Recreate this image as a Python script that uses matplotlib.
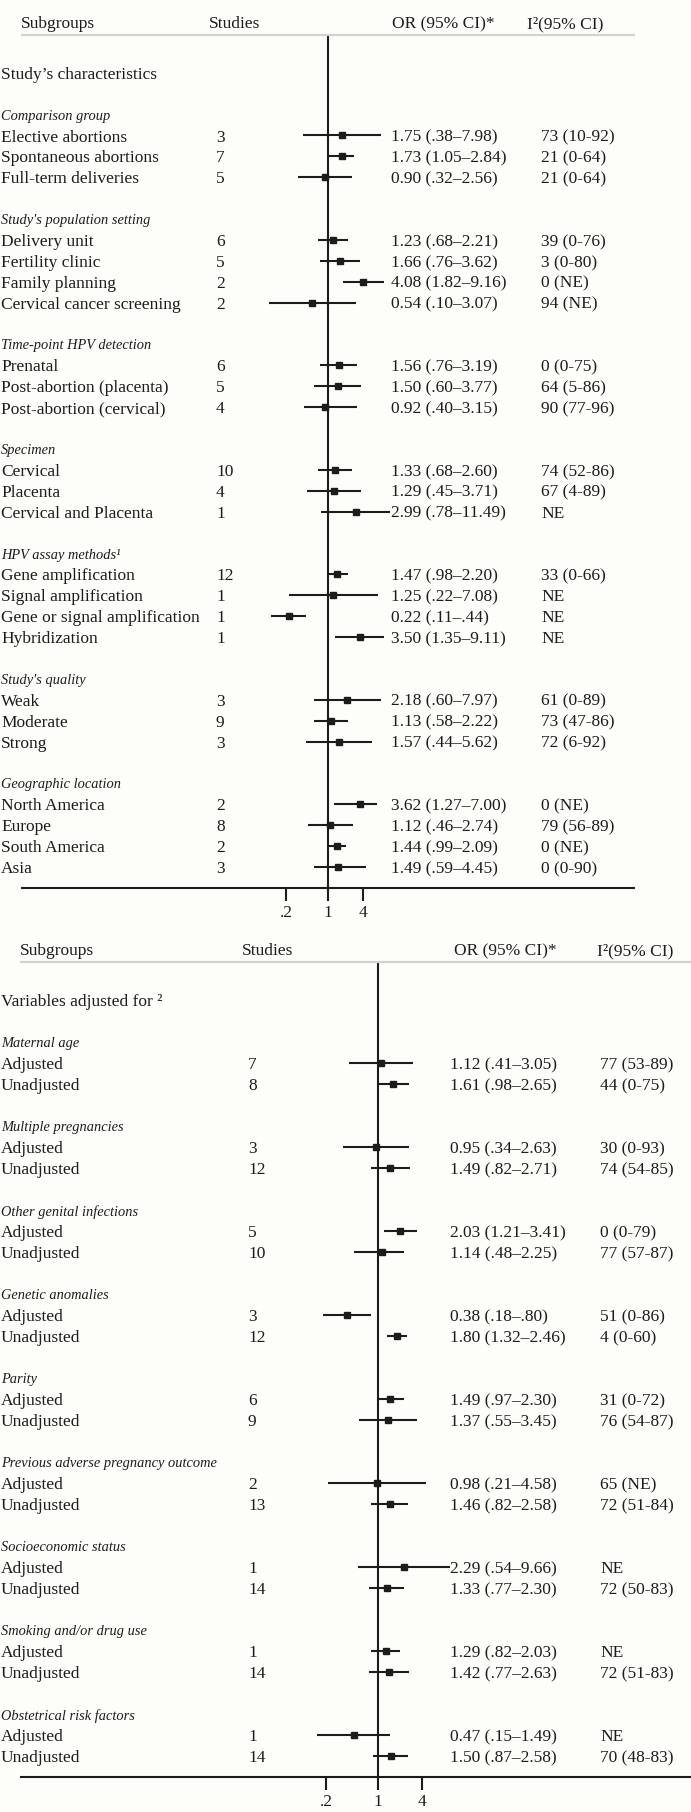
import numpy as np
import matplotlib
matplotlib.use("Agg")
import matplotlib.pyplot as plt
from matplotlib import transforms
from matplotlib.ticker import NullLocator

# ---- top panel: study characteristics ----
top_groups = ["Comparison group", "Study's population setting", "Time-point HPV detection",
              "Specimen", "HPV assay methods\u00b9", "Study's quality", "Geographic location"]
top_sizes = [3, 4, 3, 3, 4, 3, 4]
top_labels = ["Elective abortions", "Spontaneous abortions", "Full-term deliveries",
              "Delivery unit", "Fertility clinic", "Family planning", "Cervical cancer screening",
              "Prenatal", "Post-abortion (placenta)", "Post-abortion (cervical)",
              "Cervical", "Placenta", "Cervical and Placenta",
              "Gene amplification", "Signal amplification", "Gene or signal amplification", "Hybridization",
              "Weak", "Moderate", "Strong",
              "North America", "Europe", "South America", "Asia"]
top_studies = [3, 7, 5, 6, 5, 2, 2, 6, 5, 4, 10, 4, 1, 12, 1, 1, 1, 3, 9, 3, 2, 8, 2, 3]
top_or = [1.75, 1.73, 0.90, 1.23, 1.66, 4.08, 0.54, 1.56, 1.50, 0.92, 1.33, 1.29, 2.99,
          1.47, 1.25, 0.22, 3.50, 2.18, 1.13, 1.57, 3.62, 1.12, 1.44, 1.49]
top_lo = [0.38, 1.05, 0.32, 0.68, 0.76, 1.82, 0.10, 0.76, 0.60, 0.40, 0.68, 0.45, 0.78,
          0.98, 0.22, 0.11, 1.35, 0.60, 0.58, 0.44, 1.27, 0.46, 0.99, 0.59]
top_hi = [7.98, 2.84, 2.56, 2.21, 3.62, 9.16, 3.07, 3.19, 3.77, 3.15, 2.60, 3.71, 11.49,
          2.20, 7.08, 0.44, 9.11, 7.97, 2.22, 5.62, 7.00, 2.74, 2.09, 4.45]
top_i2 = ["73 (10-92)", "21 (0-64)", "21 (0-64)", "39 (0-76)", "3 (0-80)", "0 (NE)", "94 (NE)",
          "0 (0-75)", "64 (5-86)", "90 (77-96)", "74 (52-86)", "67 (4-89)", "NE",
          "33 (0-66)", "NE", "NE", "NE", "61 (0-89)", "73 (47-86)", "72 (6-92)",
          "0 (NE)", "79 (56-89)", "0 (NE)", "0 (0-90)"]

# ---- bottom panel: adjustment variables ----
bot_groups = ["Maternal age", "Multiple pregnancies", "Other genital infections", "Genetic anomalies",
              "Parity", "Previous adverse pregnancy outcome", "Socioeconomic status",
              "Smoking and/or drug use", "Obstetrical risk factors"]
bot_sizes = [2] * 9
bot_labels = ["Adjusted", "Unadjusted"] * 9
bot_studies = [7, 8, 3, 12, 5, 10, 3, 12, 6, 9, 2, 13, 1, 14, 1, 14, 1, 14]
bot_or = [1.12, 1.61, 0.95, 1.49, 2.03, 1.14, 0.38, 1.80, 1.49, 1.37, 0.98, 1.46,
          2.29, 1.33, 1.29, 1.42, 0.47, 1.50]
bot_lo = [0.41, 0.98, 0.34, 0.82, 1.21, 0.48, 0.18, 1.32, 0.97, 0.55, 0.21, 0.82,
          0.54, 0.77, 0.82, 0.77, 0.15, 0.87]
bot_hi = [3.05, 2.65, 2.63, 2.71, 3.41, 2.25, 0.80, 2.46, 2.30, 3.45, 4.58, 2.58,
          9.66, 2.30, 2.03, 2.63, 1.49, 2.58]
bot_i2 = ["77 (53-89)", "44 (0-75)", "30 (0-93)", "74 (54-85)", "0 (0-79)", "77 (57-87)",
          "51 (0-86)", "4 (0-60)", "31 (0-72)", "76 (54-87)", "65 (NE)", "72 (51-84)",
          "NE", "72 (50-83)", "NE", "72 (51-83)", "NE", "70 (48-83)"]

tick_vals = [0.2, 1, 4]
tick_labels = [".2", "1", "4"]

W, H = 691, 1812
FONT = "Liberation Serif"
INK = "#1c1c1c"
plt.rcParams["font.family"] = FONT

fig = plt.figure(figsize=(W / 100, H / 100), dpi=100)
fig.patch.set_facecolor("#fdfdf9")


def ci_text(v):
    s = f"{v:.2f}"
    return s[1:] if s.startswith("0") else s


def panel(rect_px, one_px, k, row0, pitch, section, groups, sizes, labels, studies,
          ors, los, his, i2s, cols, head_cols):
    left, right, top, bottom = rect_px
    ax = fig.add_axes([left / W, 1 - bottom / H, (right - left) / W, (bottom - top) / H])
    ax.set_facecolor("none")
    ax.set_xscale("log")
    ax.set_xlim(np.exp((left - one_px) / k), np.exp((right - one_px) / k))
    ax.set_ylim((bottom - row0) / pitch, (top - row0) / pitch)
    for s in ["left", "right"]:
        ax.spines[s].set_visible(False)
    ax.spines["top"].set_color("#d2d2d0")
    ax.spines["top"].set_linewidth(1.6)
    ax.spines["bottom"].set_linewidth(1.5)
    ax.spines["bottom"].set_color(INK)
    ax.set_yticks([])
    ax.set_xticks(tick_vals)
    ax.set_xticklabels(tick_labels)
    ax.xaxis.set_minor_locator(NullLocator())
    ax.tick_params(axis="x", length=9, width=1.5, color=INK, pad=3,
                   labelsize=12.5, labelcolor=INK)
    ax.axvline(1, color=INK, lw=1.5, zorder=1)

    tr = transforms.blended_transform_factory(fig.transFigure, ax.transData)
    kw = dict(transform=tr, va="center_baseline", ha="left", color=INK, fontsize=12.5)

    hy = (top - 12.5 - row0) / pitch
    for txt, x in zip(["Subgroups", "Studies", "OR (95% CI)*", "I\u00b2(95% CI)"], head_cols):
        ax.text(x / W, hy, txt, **kw)
    ax.text(1 / W, -2, section, **kw)

    r = 0
    i = 0
    for g, n in zip(groups, sizes):
        ax.text(1 / W, r, g, transform=tr, va="center_baseline", ha="left", color=INK,
                fontsize=10.4, style="italic")
        for j in range(n):
            y = r + 1 + j
            ax.text(1 / W, y, labels[i], **kw)
            ax.text(cols[0] / W, y, str(studies[i]), **kw)
            ax.text(cols[1] / W, y, f"{ors[i]:.2f} ({ci_text(los[i])}\u2013{ci_text(his[i])})", **kw)
            ax.text(cols[2] / W, y, i2s[i], **kw)
            ax.plot([los[i], his[i]], [y, y], color=INK, lw=1.5, solid_capstyle="butt", zorder=2)
            ax.plot(ors[i], y, marker="s", ms=4.6, color=INK, zorder=3)
            i += 1
        r += n + 2
    return ax


panel((22, 634, 35, 888), 327.5, 25.6, 114.6, 20.9, "Study\u2019s characteristics",
      top_groups, top_sizes, top_labels, top_studies, top_or, top_lo, top_hi, top_i2,
      cols=(216, 391, 541), head_cols=(21, 209, 392, 527))

panel((21, 691, 962, 1777), 377.7, 32.05, 1042.3, 21.0, "Variables adjusted for \u00b2",
      bot_groups, bot_sizes, bot_labels, bot_studies, bot_or, bot_lo, bot_hi, bot_i2,
      cols=(248, 450, 600), head_cols=(20, 242, 454, 597))

fig.savefig("out.png", dpi=100, facecolor=fig.get_facecolor())
